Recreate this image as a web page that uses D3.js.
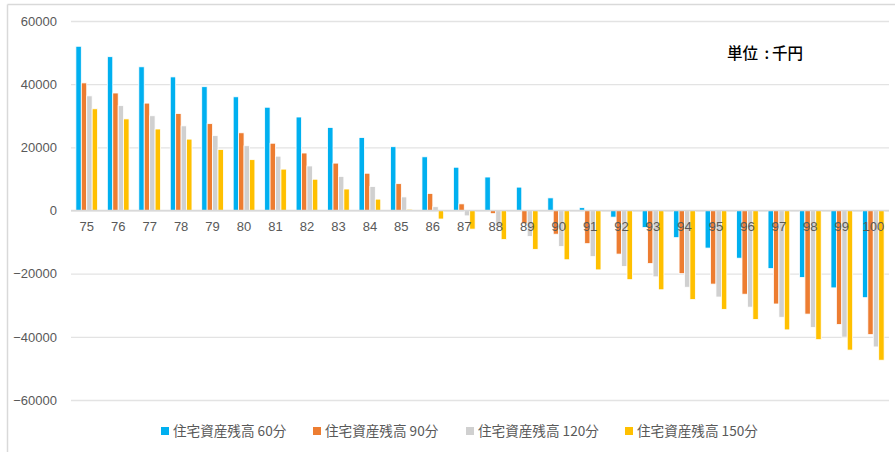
<!DOCTYPE html>
<html>
<head>
<meta charset="utf-8">
<script src="https://cdn.jsdelivr.net/npm/d3@7"></script>
<style>
  body { margin: 0; background: #fff; }
  svg { display: block; }
</style>
</head>
<body>
<div id="chart"></div>
<script>
// Ages on the category axis
const ages = ["75","76","77","78","79","80","81","82","83","84","85","86","87","88","89","90","91","92","93","94","95","96","97","98","99","100"];

// Remaining housing assets (thousand yen) per series
const s60  = [52000,48700,45500,42300,39200,36000,32700,29600,26300,23100,20200,17000,13700,10600,7400,4000,900,-2100,-5400,-8600,-11900,-15100,-18400,-21200,-24500,-27600];
const s90  = [40400,37200,34000,30700,27500,24600,21300,18200,15000,11800,8500,5400,2100,-1000,-4200,-7500,-10500,-13800,-16800,-20000,-23300,-26500,-29600,-32800,-36100,-39300];
const s120 = [36300,33200,30000,26800,23700,20500,17200,14100,10800,7600,4300,1200,-1700,-4900,-8200,-11400,-14600,-17700,-21000,-24300,-27400,-30600,-33800,-37000,-40100,-43200];
const s150 = [32200,29000,25800,22600,19300,16100,13100,9900,6800,3600,400,-2700,-5900,-9200,-12300,-15600,-18800,-21900,-25100,-28200,-31300,-34500,-37800,-40900,-44200,-47400];

const seriesNames = ["住宅資産残高 60分","住宅資産残高 90分","住宅資産残高 120分","住宅資産残高 150分"];
const seriesValues = [s60, s90, s120, s150];
const colors = ["#00b0f0","#ed7d31","#d0d0d0","#ffc000"];
const yTicks = [-60000,-40000,-20000,0,20000,40000,60000];

const W = 895, H = 452;
const plot = {left: 71, right: 889, top: 21, bottom: 400};

const svg = d3.select("#chart").append("svg")
  .attr("width", W).attr("height", H);

// Outer chart frame (top and left edges visible)
svg.append("line").attr("x1", 7.5).attr("x2", W).attr("y1", 4.5).attr("y2", 4.5)
  .attr("stroke", "#d9d9d9").attr("stroke-width", 1.5);
svg.append("line").attr("x1", 7.5).attr("x2", 7.5).attr("y1", 4.5).attr("y2", H)
  .attr("stroke", "#d9d9d9").attr("stroke-width", 1.5);

const y = d3.scaleLinear().domain([-60000, 60000]).range([plot.bottom, plot.top]);
const x0 = d3.scaleBand().domain(ages).range([plot.left, plot.right]).paddingInner(0.31).paddingOuter(0.155);
const x1 = d3.scaleBand().domain(d3.range(4)).range([0, x0.bandwidth()]);

const fontNum = "'Liberation Sans', Arial, 'Noto Sans CJK JP', sans-serif";

// Gridlines and y labels
const yAxis = d3.axisLeft(y).tickValues(yTicks).tickSize(-(plot.right - plot.left)).tickPadding(14).tickFormat(d3.format("d"));
const gy = svg.append("g").attr("transform", `translate(${plot.left},0)`).call(yAxis);
gy.select(".domain").remove();
gy.selectAll(".tick line").attr("stroke", "#e3e3e3").attr("stroke-width", 1.3);
gy.selectAll(".tick text").attr("fill", "#595959").attr("font-family", fontNum).attr("font-size", 13);

// Bars
const groups = svg.append("g").selectAll("g")
  .data(ages).join("g")
  .attr("transform", d => `translate(${x0(d)},0)`);

groups.selectAll("rect")
  .data((d, i) => seriesValues.map((vals, k) => ({k, v: vals[i]})))
  .join("rect")
  .attr("x", d => x1(d.k))
  .attr("width", x1.bandwidth())
  .attr("y", d => y(Math.max(0, d.v)))
  .attr("height", d => Math.abs(y(d.v) - y(0)))
  .attr("fill", d => colors[d.k])
  .attr("stroke", "#fff")
  .attr("stroke-width", 0.8);

// Zero axis line
svg.append("line").attr("x1", plot.left).attr("x2", plot.right)
  .attr("y1", y(0)).attr("y2", y(0)).attr("stroke", "#d9d9d9").attr("stroke-width", 1.3);

// Category labels just below the zero line
const xAxis = d3.axisBottom(x0).tickSize(0).tickPadding(11);
const gx = svg.append("g").attr("transform", `translate(0,${y(0)})`).call(xAxis);
gx.select(".domain").remove();
gx.selectAll(".tick text").attr("fill", "#595959").attr("font-family", fontNum).attr("font-size", 13);

// Unit note
const unit = svg.append("text").attr("y", 59)
  .attr("font-family", "'Noto Sans CJK JP', sans-serif").attr("font-size", 15.5)
  .attr("font-weight", 500).attr("fill", "#000");
unit.append("tspan").attr("x", 727).text("単位");
unit.append("tspan").attr("x", 764.5).text(":");
unit.append("tspan").attr("x", 772).text("千円");

// Legend
const legendX = [161, 313, 466, 625];
const lg = svg.append("g").selectAll("g").data(seriesNames).join("g")
  .attr("transform", (d, i) => `translate(${legendX[i]},431)`);
lg.append("rect").attr("x", 0).attr("y", -4).attr("width", 8).attr("height", 8)
  .attr("fill", (d, i) => colors[i]);
lg.append("text").attr("x", 12).attr("y", 0).attr("dy", "0.36em")
  .attr("font-family", "'Noto Sans CJK JP', sans-serif").attr("font-size", 13.6)
  .attr("fill", "#595959").text(d => d);
</script>
</body>
</html>
